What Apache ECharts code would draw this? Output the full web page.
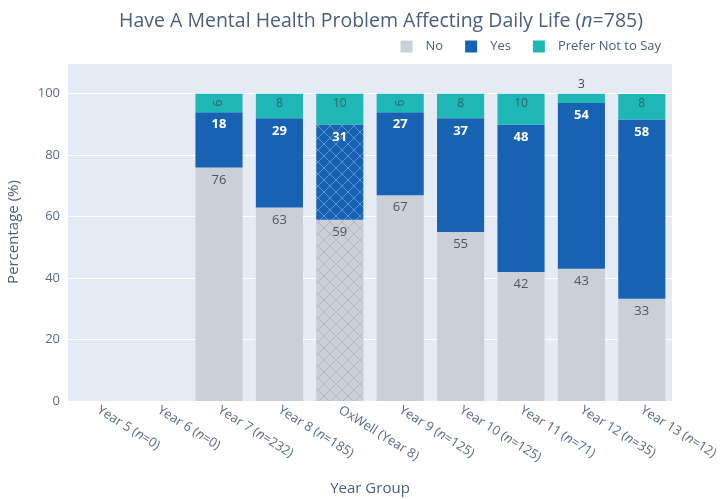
<!DOCTYPE html>
<html>
<head>
<meta charset="utf-8">
<script src="https://cdn.jsdelivr.net/npm/echarts@6/dist/echarts.min.js"></script>
<style>
  html, body { margin: 0; padding: 0; background: #fff; }
  #chart { width: 728px; height: 499px; }
</style>
</head>
<body>
<div id="chart"></div>
<script>
// year groups and their sample sizes
const yearNames = ['Year 5', 'Year 6', 'Year 7', 'Year 8', 'OxWell (Year 8)', 'Year 9', 'Year 10', 'Year 11', 'Year 12', 'Year 13']
const sampleSizes = [0, 0, 232, 185, null, 125, 125, 71, 35, 12]

// percentages per answer (null = no data)
const noValues = [null, null, 76, 63, 59, 67, 55, 42, 43, 33.3]
const yesValues = [null, null, 18, 29, 31, 27, 37, 48, 54, 58.3]
const preferValues = [null, null, 6, 8, 10, 6, 8, 10, 3, 8.3]

const yTicks = [0, 20, 40, 60, 80, 100]

const hatchIndex = 4 // OxWell bar gets cross hatch

const FONT = '"Open Sans", "DejaVu Sans", sans-serif'
const C_NO = '#cbd0d8'
const C_YES = '#1762b3'
const C_PREF = '#1fb6b6'
const C_TEXT = '#4a5e7e'

// make a crosshatch pattern
const makeHatch = (base, line) => {
  const cv = document.createElement('canvas')
  cv.width = 12
  cv.height = 12
  const ctx = cv.getContext('2d')
  ctx.fillStyle = base
  ctx.fillRect(0, 0, 12, 12)
  ctx.strokeStyle = line
  ctx.lineWidth = 1
  ctx.beginPath()
  ctx.moveTo(0, 0); ctx.lineTo(12, 12)
  ctx.moveTo(12, 0); ctx.lineTo(0, 12)
  ctx.stroke()
  return { image: cv, repeat: 'repeat' }
}

const categories = yearNames.map((n, i) =>
  sampleSizes[i] === null ? n : n + ' (n=' + sampleSizes[i] + ')')

const catLabel = (v) => {
  const m = v.match(/^(.*\()n(=.*)$/)
  if (!m) return '{a|' + v + '}'
  return '{a|' + m[1] + '}{i|n}{a|' + m[2] + '}'
}

const fmt = (p) => p.value == null ? '' : String(Math.round(p.value))

const buildData = (vals, base, line, kind) => vals.map((v, i) => {
  const item = { value: v }
  if (i === hatchIndex && line) {
    item.itemStyle = { color: makeHatch(base, line) }
  }
  if (kind === 'pref' && v != null) {
    if (v < 5) {
      item.label = { position: 'top', color: '#444', distance: 3 }
    } else if (v < 7) {
      item.label = { rotate: 90, position: 'inside' }
    }
  }
  return item
})

const chart = echarts.init(document.getElementById('chart'))

const option = {
  backgroundColor: '#fff',
  textStyle: { fontFamily: FONT },
  title: {
    text: '{t|Have A Mental Health Problem Affecting Daily Life (}{ti|n}{t|=785)}',
    left: 376,
    textAlign: 'center',
    top: 6,
    textStyle: {
      rich: {
        t: { fontSize: 19.5, color: C_TEXT, fontWeight: 'normal', fontFamily: FONT },
        ti: { fontSize: 19.5, color: C_TEXT, fontWeight: 'normal', fontStyle: 'italic', fontFamily: FONT }
      }
    }
  },
  legend: {
    right: 62,
    top: 35,
    itemWidth: 12,
    itemHeight: 12,
    itemGap: 22,
    icon: 'rect',
    textStyle: { fontSize: 13, color: C_TEXT, fontFamily: FONT, padding: [0, 0, 0, 8] },
    data: ['No', 'Yes', 'Prefer Not to Say']
  },
  grid: {
    left: 68, right: 56, top: 63, bottom: 98,
    outerBoundsMode: 'none',
    containLabel: false,
    backgroundColor: '#e5ebf5', show: true, borderWidth: 0
  },
  xAxis: {
    type: 'category',
    data: categories,
    name: 'Year Group',
    nameLocation: 'middle',
    nameGap: 80,
    nameTextStyle: { fontSize: 15, color: C_TEXT },
    axisLine: { show: false },
    axisTick: { show: false },
    axisLabel: {
      rotate: -32,
      interval: 0,
      margin: 8,
      formatter: catLabel,
      rich: {
        a: { fontSize: 13, color: '#5a6b88', fontFamily: FONT },
        i: { fontSize: 13, color: '#5a6b88', fontStyle: 'italic', fontFamily: FONT }
      }
    }
  },
  yAxis: {
    type: 'value',
    min: 0,
    max: 110,
    interval: 20,
    name: 'Percentage (%)',
    nameLocation: 'middle',
    nameGap: 47,
    nameTextStyle: { fontSize: 15, color: C_TEXT },
    axisLine: { show: false },
    axisTick: { show: false },
    axisLabel: {
      fontSize: 13,
      color: '#5a6b88',
      formatter: (v) => yTicks.includes(v) ? String(v) : ''
    },
    splitLine: { lineStyle: { color: '#ffffff', width: 1 } }
  },
  series: [
    {
      name: 'No',
      type: 'bar',
      stack: 'all',
      barCategoryGap: '22%',
      itemStyle: { color: C_NO },
      label: { show: true, position: 'insideTop', distance: 6, color: '#555', fontSize: 13, formatter: fmt },
      data: buildData(noValues, C_NO, '#b3b9c4', 'no')
    },
    {
      name: 'Yes',
      type: 'bar',
      stack: 'all',
      itemStyle: { color: C_YES },
      label: { show: true, position: 'insideTop', distance: 6, color: '#ffffff', fontWeight: 'bold', fontSize: 13, formatter: fmt },
      data: buildData(yesValues, C_YES, '#5b8fd0', 'yes')
    },
    {
      name: 'Prefer Not to Say',
      type: 'bar',
      stack: 'all',
      itemStyle: { color: C_PREF },
      label: { show: true, position: 'insideTop', distance: 4, color: '#2f6468', fontSize: 12, formatter: fmt },
      data: buildData(preferValues, C_PREF, null, 'pref')
    }
  ]
}

chart.setOption(option)
</script>
</body>
</html>
